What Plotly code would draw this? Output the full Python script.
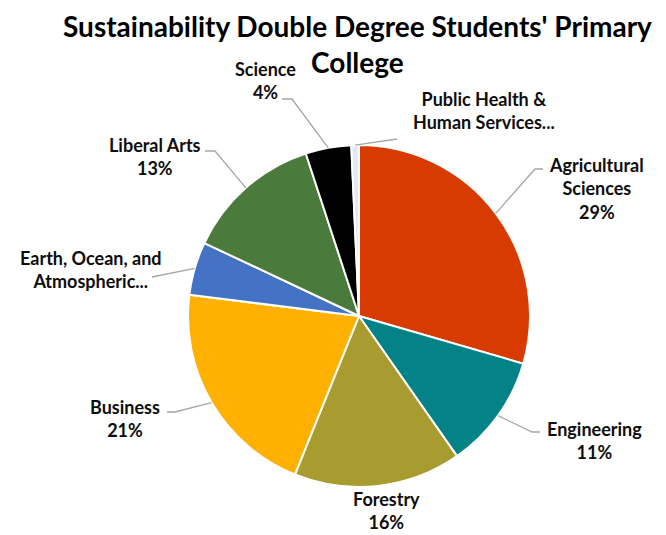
import math
import plotly.graph_objects as go

# ---- data ----
colleges = ["Agricultural Sciences", "Engineering", "Forestry", "Business",
            "Earth, Ocean, and Atmospheric Sciences", "Liberal Arts", "Science",
            "Public Health & Human Services"]
display_names = ["Agricultural<br>Sciences", "Engineering", "Forestry", "Business",
                 "Earth, Ocean, and<br>Atmospheric...", "Liberal Arts", "Science",
                 "Public Health &<br>Human Services..."]
students = [41, 15, 22, 29, 7, 18, 6, 1]
show_pct = [True, True, True, True, False, True, True, False]

colors = ["#D83B01", "#038387", "#A89B30", "#FFB000", "#4472C4", "#4A7A3C", "#000000", "#DEEBF7"]

W, H = 666, 535
CX, CY, R = 359, 316, 171

# label layout (pixel centers) and leader elbow points (pixels) -- layout only
label_pos = [(596, 188), (594, 440), (387, 510), (125, 418), (91, 270), (155, 157), (265, 80), (484, 110)]
elbows = [[(543, 169), (535, 169)], [(540, 432), (532, 432)], None, [(167, 412), (175, 412)],
          [(152, 277)], [(205, 151), (215, 151)], [(282, 99), (292, 99)], [(397, 139)]]

fig = go.Figure(go.Pie(
    labels=colleges, values=students, sort=False, direction="clockwise", rotation=0,
    marker=dict(colors=colors, line=dict(color="white", width=2)),
    textinfo="none", hoverinfo="label+value+percent", showlegend=False,
    domain=dict(x=[(CX - R) / W, (CX + R) / W], y=[(H - CY - R) / H, (H - CY + R) / H]),
))

def px(x):
    return x / W

def py(y):
    return 1 - y / H

total = sum(students)
cum = 0
annotations = []
shapes = []
for i, v in enumerate(students):
    mid = (cum + v / 2) / total * 2 * math.pi
    cum += v
    ex, ey = CX + R * math.sin(mid), CY - R * math.cos(mid)
    pct = round(v / total * 100)
    txt = display_names[i] + (f"<br>{pct}%" if show_pct[i] else "")
    lx, ly = label_pos[i]
    annotations.append(dict(x=px(lx), y=py(ly), xref="paper", yref="paper", text=f"<b>{txt}</b>",
                            showarrow=False, xanchor="center", yanchor="middle",
                            font=dict(family="Lato", size=18, color="#0D0D0D")))
    if elbows[i]:
        pts = elbows[i] + [(ex, ey)]
        path = "M " + " L ".join(f"{px(a):.5f},{py(b):.5f}" for a, b in pts)
        shapes.append(dict(type="path", xref="paper", yref="paper", path=path,
                           line=dict(color="#A6A6A6", width=1.3)))

annotations.append(dict(
    x=px(357), y=py(7), xref="paper", yref="paper", xanchor="center", yanchor="top",
    text="<b>Sustainability Double Degree Students' Primary<br>College</b>", showarrow=False,
    font=dict(family="Lato", size=28, color="#000000")))

fig.update_layout(
    width=W, height=H, margin=dict(l=0, r=0, t=0, b=0),
    paper_bgcolor="white", plot_bgcolor="white",
    annotations=annotations, shapes=shapes,
)

fig.write_html("out.html")
